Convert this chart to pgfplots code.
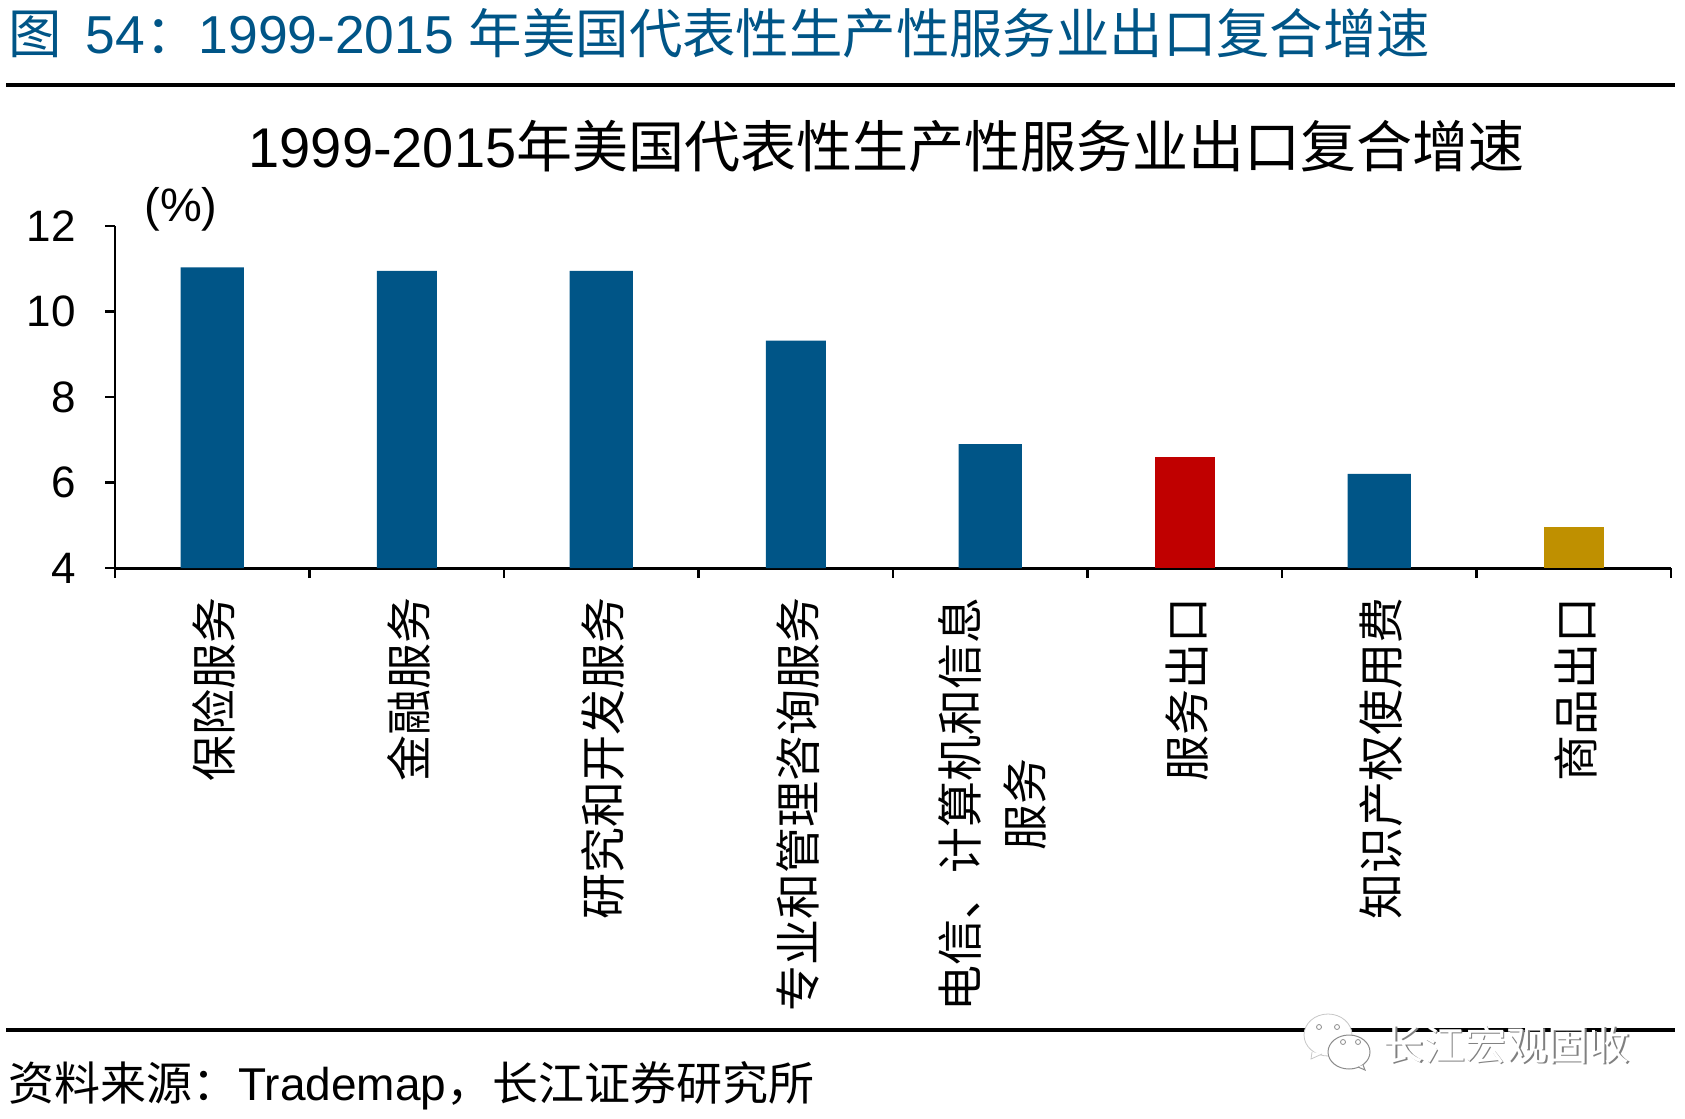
\documentclass[border=0pt]{standalone}
\usepackage{fontspec}
\setmainfont{Liberation Sans}
\newfontfamily\cjk{Noto Sans CJK SC}
\usepackage{pgfplots}
\pgfplotsset{compat=1.18}
\definecolor{barblue}{HTML}{005587}
\definecolor{barred}{HTML}{C00000}
\definecolor{bargold}{HTML}{BF9000}
\definecolor{headblue}{HTML}{005587}
\begin{document}
\begin{tikzpicture}[x=0.5pt,y=-0.5pt]
\useasboundingbox (0,0) rectangle (1685,1118);
\begin{axis}[
  at={(57.5pt,-284pt)}, anchor=south west,
  scale only axis, width=778pt, height=171pt,
  xmin=-0.5, xmax=7.5, ymin=4, ymax=12,
  axis x line=bottom, axis y line=left,
  axis line style={black,line width=1.1pt,-},
  x axis line style={line width=1.5pt},
  tick style={black,line width=1.1pt},
  ytick={4,6,8,10,12},
  yticklabel style={font=\fontsize{22}{24}\selectfont, xshift=-11pt},
  /pgf/number format/assume math mode=true,
  major tick length=5pt,
  xtick={-0.5,0.5,1.5,2.5,3.5,4.5,5.5,6.5,7.5},
  xticklabels={},
  xtick align=outside, ytick align=outside,
  extra x ticks={0,1,2,3,4,5,6,7},
  extra x tick labels={
    {\cjk 保险服务},{\cjk 金融服务},{\cjk 研究和开发服务},{\cjk 专业和管理咨询服务},
    {\cjk 电信、计算机和信息\\\cjk 服务},{\cjk 服务出口},{\cjk 知识产权使用费},{\cjk 商品出口}},
  extra x tick style={major tick length=0pt,
    xticklabel style={rotate=90,anchor=east,align=center,
      font=\fontsize{23}{32.5}\selectfont, xshift=-11.2pt, yshift=-1pt}},
  clip=false,
]
\addplot[ybar,bar width=31.7pt,fill=barblue,draw=none,bar shift=0pt] coordinates {
 (0,11.03)(2,10.95)(4,6.9)(6,6.2)};
\addplot[ybar,bar width=30pt,fill=barblue,draw=none,bar shift=0pt] coordinates {
 (1,10.95)(3,9.32)};
\addplot[ybar,bar width=30pt,fill=barred,draw=none,bar shift=0pt] coordinates {(5,6.6)};
\addplot[ybar,bar width=30pt,fill=bargold,draw=none,bar shift=0pt] coordinates {(7,4.96)};
\end{axis}
\node[anchor=west,inner sep=0pt,text=headblue,font=\fontsize{26.7}{29}\selectfont] at (8,33) {\cjk 图\hspace{0.45em}\fontspec{Liberation Sans}54\cjk：\fontspec{Liberation Sans}1999-2015 \cjk 年美国代表性生产性服务业出口复合增速};
\draw[black,line width=1.6pt] (6,85) -- (1675,85);
\draw[black,line width=1.6pt] (6,1030) -- (1675,1030);
\node[anchor=center,inner sep=0pt,font=\fontsize{28}{30}\selectfont] at (886.5,146) {1999-2015\cjk 年美国代表性生产性服务业出口复合增速};
\node[anchor=center,inner sep=0pt,font=\fontsize{23.5}{25}\selectfont] at (181,209) {(\%)};
\node[anchor=west,inner sep=0pt,font=\fontsize{23}{25}\selectfont] at (8,1086) {\cjk 资料来源：\fontspec{Liberation Sans}Trademap\cjk ，长江证券研究所};
% watermark: two speech bubbles and embossed text
\draw[black!22,fill=white,line width=0.4pt] (1328,1035) ellipse [x radius=24,y radius=21];
\draw[black!22,fill=white,line width=0.4pt] (1312,1052) -- (1311,1059) -- (1322,1054);
\draw[black!45,fill=white,line width=0.5pt] (1349,1052) ellipse [x radius=21,y radius=17];
\draw[black!45,fill=white,line width=0.5pt] (1358,1067) -- (1365,1070) -- (1363,1065);
\foreach \ex/\ey in {1319/1027,1337/1027,1343/1042,1358/1042}
  \draw[black!45,line width=0.4pt] (\ex,\ey) circle [radius=2.5];
\node[anchor=west,inner sep=0pt,text=black!50,font=\fontsize{20.6}{22}\selectfont] at (1384,1046) {\cjk 长江宏观固收};
\node[anchor=west,inner sep=0pt,text=white,font=\fontsize{20.6}{22}\selectfont] at (1382.5,1045) {\cjk 长江宏观固收};
\end{tikzpicture}
\end{document}
